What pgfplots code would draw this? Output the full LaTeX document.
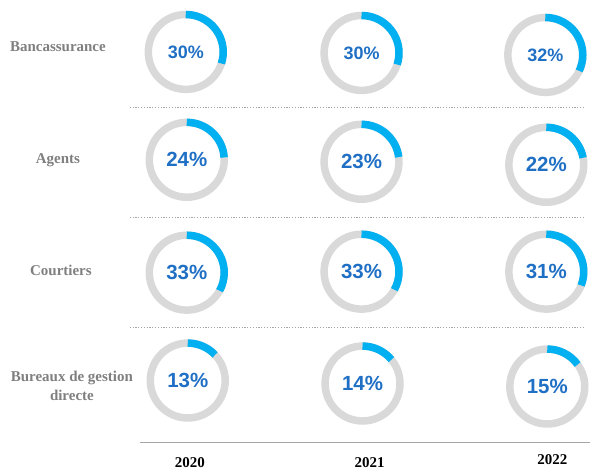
\documentclass[border=0pt]{standalone}
\usepackage{pgfplots}
\pgfplotsset{compat=1.18}
\usepackage{pgfplotstable}
\usepackage{fontspec}
\setmainfont{Liberation Serif}
\newfontfamily\arial{Liberation Sans}
\definecolor{ringgray}{HTML}{D9D9D9}
\definecolor{arcblue}{HTML}{00B0F0}
\definecolor{pctblue}{HTML}{1F6FC5}
\definecolor{labgray}{HTML}{7F7F7F}
\definecolor{linegray}{HTML}{A6A6A6}

\pgfplotstableread{
cx cy pct fs
186 52 30 18
362 53 30 18
546 55 32 18
187 160 24 20.5
362 162 23 20.5
547 165 22 20.5
187 273 33 20.5
362 272 33 20.5
547 272 31 20.5
188 381 13 20.5
363 384 14 20.5
548 387 15 20.5
}\donuts

\begin{document}
\begin{tikzpicture}
\begin{axis}[x=1pt,y=1pt,xmin=0,xmax=591,ymin=0,ymax=472,y dir=reverse,
  hide axis,clip=false,enlargelimits=false]
\path (axis cs:0,0) rectangle (axis cs:591,472);
% separators
\foreach \yy in {108,218,328}{
  \edef\temp{\noexpand\draw[linegray,line width=1.2pt,dash pattern=on 1.2pt off 1.6pt] (axis cs:130,\yy) -- (axis cs:585,\yy);}
  \temp
}
\draw[linegray,line width=1.5pt] (axis cs:140,443) -- (axis cs:591,443);
% donuts
\addplot[scatter, only marks, mark=*, mark size=0.5pt, point meta=explicit,
  visualization depends on={\thisrow{pct}\as\pct},
  scatter/@pre marker code/.code={%
    \pgfscope
    \pgfmathsetmacro\ang{90-3.6*\pct}%
    \pgfsetlinewidth{7.5pt}%
    \pgfsetstrokecolor{ringgray}%
    \pgfpathcircle{\pgfpointorigin}{37.5pt}%
    \pgfusepath{stroke}%
    \pgfsetstrokecolor{arcblue}%
    \pgfpathmoveto{\pgfpointpolar{90}{37.5pt}}%
    \pgfpatharc{90}{\ang}{37.5pt}%
    \pgfusepath{stroke}%
    \pgfsetfillcolor{white}\pgfsetstrokecolor{white}\pgfsetlinewidth{0pt}%
  },
  scatter/@post marker code/.code={\endpgfscope},
] table[x=cx,y=cy,meta=pct]{\donuts};
% percentages
\addplot[only marks, mark=none, point meta=explicit,
  /pgf/number format/assume math mode=true,
  visualization depends on={\thisrow{fs}\as\fs},
  nodes near coords={\pgfmathprintnumber{\pgfplotspointmeta}\%},
  nodes near coords align=center,
  every node near coord/.append style={font=\arial\bfseries\fontsize{\fs}{\fs}\selectfont, text=pctblue, anchor=center},
] table[x=cx,y=cy,meta=pct]{\donuts};
% row labels
\node[font=\bfseries\fontsize{15}{17}\selectfont, text=labgray] at (axis cs:58,47) {Bancassurance};
\node[font=\bfseries\fontsize{15}{17}\selectfont, text=labgray] at (axis cs:58,160) {Agents};
\node[font=\bfseries\fontsize{15}{17}\selectfont, text=labgray] at (axis cs:61,271) {Courtiers};
\node[font=\bfseries\fontsize{15}{19}\selectfont, text=labgray, align=center] at (axis cs:72,386) {Bureaux de gestion\\directe};
% years
\node[font=\bfseries\fontsize{15}{17}\selectfont] at (axis cs:190,463) {2020};
\node[font=\bfseries\fontsize{15}{17}\selectfont] at (axis cs:370,463) {2021};
\node[font=\bfseries\fontsize{15}{17}\selectfont] at (axis cs:553,460) {2022};
\end{axis}
\end{tikzpicture}
\end{document}
